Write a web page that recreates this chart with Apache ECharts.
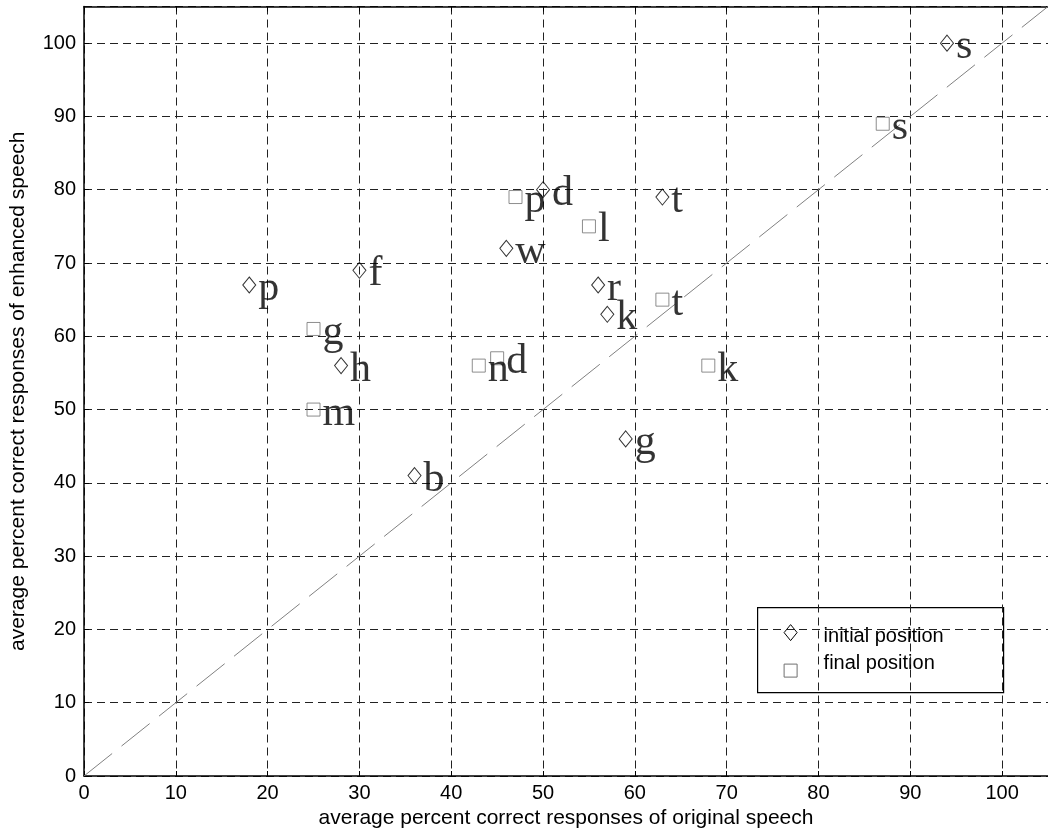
<!DOCTYPE html>
<html>
<head>
<meta charset="utf-8">
<script src="https://cdn.jsdelivr.net/npm/echarts@6/dist/echarts.min.js"></script>
<style>
  html, body { margin: 0; padding: 0; background: #fff; }
  #chart { width: 1048px; height: 836px; }
</style>
</head>
<body>
<div id="chart"></div>
<script>
// Phoneme positions: initial (diamond) and final (square)
const initialX = [94, 63, 50, 46, 56, 57, 30, 18, 28, 36, 59];
const initialY = [100, 79, 80, 72, 67, 63, 69, 67, 56, 41, 46];
const initialLabels = ['s', 't', 'd', 'w', 'r', 'k', 'f', 'p', 'h', 'b', 'g'];

const finalX = [87, 47, 55, 63, 68, 43, 45, 25, 25];
const finalY = [89, 79, 75, 65, 56, 56, 57, 61, 50];
const finalLabels = ['s', 'p', 'l', 't', 'k', 'n', 'd', 'g', 'm'];

// Equal-performance reference line
const diagonal = [[0, 0], [105, 105]];

const axisMin = 0;
const axisMax = 105;
const tickStep = 10;

const xName = 'average percent correct responses of original speech';
const yName = 'average percent correct responses of enhanced speech';
const legendNames = ['initial position', 'final position'];

const sansFont = '"Liberation Sans", Arial, sans-serif';
const serifFont = '"Liberation Serif", "Times New Roman", serif';

function toPoints(xs, ys, labels) {
  return xs.map((x, i) => ({ value: [x, ys[i]], name: labels[i] }));
}

const letterLabel = {
  show: true,
  position: 'right',
  distance: 2,
  formatter: p => p.name,
  fontFamily: serifFont,
  fontSize: 42,
  color: '#000',
  offset: [0, 4]
};

const chart = echarts.init(document.getElementById('chart'), null, { renderer: 'canvas' });

const splitStyle = { show: true, lineStyle: { color: '#222', width: 1, type: [8, 5] } };

chart.setOption({
  animation: false,
  backgroundColor: '#fff',
  grid: { left: 84, top: 6.5, width: 973.4, height: 769.5, containLabel: false },
  xAxis: [{
    type: 'value', min: axisMin, max: axisMax, interval: tickStep,
    position: 'bottom',
    name: xName, nameLocation: 'middle', nameGap: 32,
    nameTextStyle: { fontFamily: sansFont, fontSize: 21, color: '#000' },
    axisLine: { show: true, lineStyle: { color: '#000', width: 1.5 } },
    axisTick: { show: true, inside: true, length: 5, lineStyle: { color: '#000' } },
    axisLabel: { fontFamily: sansFont, fontSize: 20, color: '#000', margin: 7, showMaxLabel: false },
    splitLine: splitStyle
  }, {
    type: 'value', min: axisMin, max: axisMax, interval: tickStep,
    position: 'top',
    axisLine: { show: true, lineStyle: { color: '#000', width: 1.5 } },
    axisTick: { show: true, inside: true, length: 5, lineStyle: { color: '#000' } },
    axisLabel: { show: false },
    splitLine: { show: false }
  }],
  yAxis: [{
    type: 'value', min: axisMin, max: axisMax, interval: tickStep,
    position: 'left',
    name: yName, nameLocation: 'middle', nameGap: 55, nameRotate: 90,
    nameTextStyle: { fontFamily: sansFont, fontSize: 21, color: '#000' },
    axisLine: { show: true, lineStyle: { color: '#000', width: 1.5 } },
    axisTick: { show: true, inside: true, length: 5, lineStyle: { color: '#000' } },
    axisLabel: { fontFamily: sansFont, fontSize: 20, color: '#000', margin: 8, showMaxLabel: false },
    splitLine: splitStyle
  }],
  series: [{
    type: 'line',
    data: diagonal,
    showSymbol: false,
    silent: true,
    lineStyle: { color: '#808080', width: 1, type: [36, 12] },
    z: 1
  }, {
    name: legendNames[0],
    type: 'scatter',
    symbol: 'diamond',
    symbolSize: [13, 16],
    data: toPoints(initialX, initialY, initialLabels),
    itemStyle: { color: 'rgba(0,0,0,0)', borderColor: '#000', borderWidth: 1 },
    label: letterLabel,
    z: 3
  }, {
    name: legendNames[1],
    type: 'scatter',
    symbol: 'rect',
    symbolSize: 13,
    data: toPoints(finalX, finalY, finalLabels),
    itemStyle: { color: 'rgba(0,0,0,0)', borderColor: '#707070', borderWidth: 1 },
    label: letterLabel,
    z: 3
  }],
  // Boxed key in the lower right corner
  graphic: [{
    type: 'group',
    left: 757,
    top: 607,
    z: 10,
    children: [{
      type: 'rect',
      shape: { x: 0, y: 0, width: 246, height: 85 },
      style: { fill: '#fff', stroke: '#000', lineWidth: 1.2 }
    }, {
      type: 'polygon',
      shape: { points: [[33, 17], [39.5, 25], [33, 33], [26.5, 25]] },
      style: { fill: 'none', stroke: '#000', lineWidth: 1 }
    }, {
      type: 'rect',
      shape: { x: 26.5, y: 56.5, width: 13, height: 13 },
      style: { fill: 'none', stroke: '#707070', lineWidth: 1 }
    }, {
      type: 'text',
      x: 66, y: 29,
      style: { text: legendNames[0], fontFamily: sansFont, fontSize: 20, fill: '#000', verticalAlign: 'middle' }
    }, {
      type: 'text',
      x: 66, y: 56,
      style: { text: legendNames[1], fontFamily: sansFont, fontSize: 20, fill: '#000', verticalAlign: 'middle' }
    }]
  }]
});
</script>
</body>
</html>
